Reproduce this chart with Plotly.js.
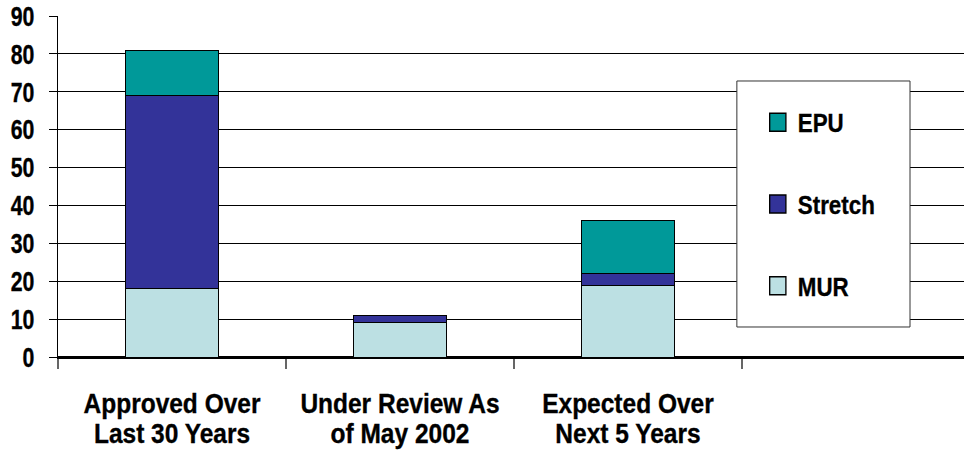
<!DOCTYPE html>
<html>
<head>
<meta charset="utf-8">
<script src="https://cdn.plot.ly/plotly-3.0.1.min.js"></script>
<style>
html,body{margin:0;padding:0;background:#fff;}
#chart{width:964px;height:456px;}
#chart .xtick text, #chart .ytick text, #chart .legendtext { stroke:#000; stroke-width:0.35px; }
</style>
</head>
<body>
<div id="chart"></div>
<script>
const categories = ["Approved Over<br>Last 30 Years", "Under Review As<br>of May 2002", "Expected Over<br>Next 5 Years", " "];
const murValues = [18, 9, 19, null];
const stretchValues = [51, 2, 3, null];
const epuValues = [12, 0, 14, null];
const yTicks = [0, 10, 20, 30, 40, 50, 60, 70, 80, 90];

const FONT = '"Liberation Sans", Arial, sans-serif';
const line = {color: '#000000', width: 1};

const traces = [
  {type: 'bar', name: 'MUR', x: categories, y: murValues, marker: {color: '#BCE0E3', line: line}, width: 0.404, legendgroup: 'a', legendrank: 3},
  {type: 'bar', name: 'Stretch', x: categories, y: stretchValues, marker: {color: '#333399', line: line}, width: 0.404, legendgroup: 'b', legendrank: 2},
  {type: 'bar', name: 'EPU', x: categories, y: epuValues, marker: {color: '#009999', line: line}, width: 0.404, legendgroup: 'c', legendrank: 1}
];

const layout = {
  width: 964, height: 456,
  margin: {l: 58, r: 0, t: 16, b: 99},
  barmode: 'stack',
  paper_bgcolor: '#ffffff', plot_bgcolor: '#ffffff',
  font: {family: FONT, size: 26, color: '#000000', weight: 'bold'},
  showlegend: true,
  legend: {
    x: 0.7724, xanchor: 'left', y: 0.757, yanchor: 'top',
    bgcolor: 'rgba(0,0,0,0)', borderwidth: 0,
    traceorder: 'grouped', tracegroupgap: 45,
    font: {family: FONT, size: 26, color: '#000000', weight: 'bold'}
  },
  shapes: [{
    type: 'rect', xref: 'paper', yref: 'paper',
    x0: 0.7493, x1: 0.9404, y0: 0.0880, y1: 0.8094,
    line: {color: '#333333', width: 1}, fillcolor: '#ffffff', layer: 'above'
  }],
  xaxis: {
    type: 'category', categoryorder: 'array', categoryarray: categories,
    range: [-0.5, 3.474],
    showline: true, linecolor: '#000000', linewidth: 1.5,
    ticks: 'outside', tickson: 'boundaries', ticklen: 10, tickcolor: '#666666', tickwidth: 1.5,
    tickangle: 0, automargin: false, ticklabelstandoff: 21,
    showgrid: false, zeroline: false,
    tickfont: {family: FONT, size: 28, color: '#000000', weight: 'bold'}
  },
  yaxis: {
    range: [0, 90], tickvals: yTicks, ticktext: yTicks.map(String),
    showline: true, linecolor: '#000000', linewidth: 1,
    ticks: 'outside', ticklen: 8, tickcolor: '#000000', ticklabelstandoff: 9,
    automargin: false,
    showgrid: true, gridcolor: '#000000', gridwidth: 1,
    zeroline: true, zerolinecolor: '#000000', zerolinewidth: 1.5,
    tickfont: {family: FONT, size: 28, color: '#000000', weight: 'bold'}
  }
};

function squeeze(sel, sx, anchor) {
  document.querySelectorAll(sel).forEach(function (t) {
    const b = t.getBBox();
    const ax = anchor === 'middle' ? b.x + b.width / 2 : (anchor === 'end' ? b.x + b.width : b.x);
    const old = t.getAttribute('transform') || '';
    t.setAttribute('transform', old + ' translate(' + ax + ',0) scale(' + sx + ',1) translate(' + (-ax) + ',0)');
  });
}

Plotly.newPlot('chart', traces, layout, {displayModeBar: false, staticPlot: true}).then(function () {
  document.querySelectorAll('#chart .xtick text tspan.line').forEach(function (ts) {
    if (ts.getAttribute('dy') && parseFloat(ts.getAttribute('dy')) > 0) ts.setAttribute('dy', '1.07em');
  });
  squeeze('#chart .xtick text', 0.875, 'middle');
  squeeze('#chart .ytick text', 0.76, 'end');
  squeeze('#chart .legendtext', 0.86, 'start');
  document.querySelectorAll('#chart .legendpoints path').forEach(function (p) {
    const old = p.getAttribute('transform') || '';
    p.setAttribute('transform', old + ' scale(1.35,1.5)');
  });
});
</script>
</body>
</html>
